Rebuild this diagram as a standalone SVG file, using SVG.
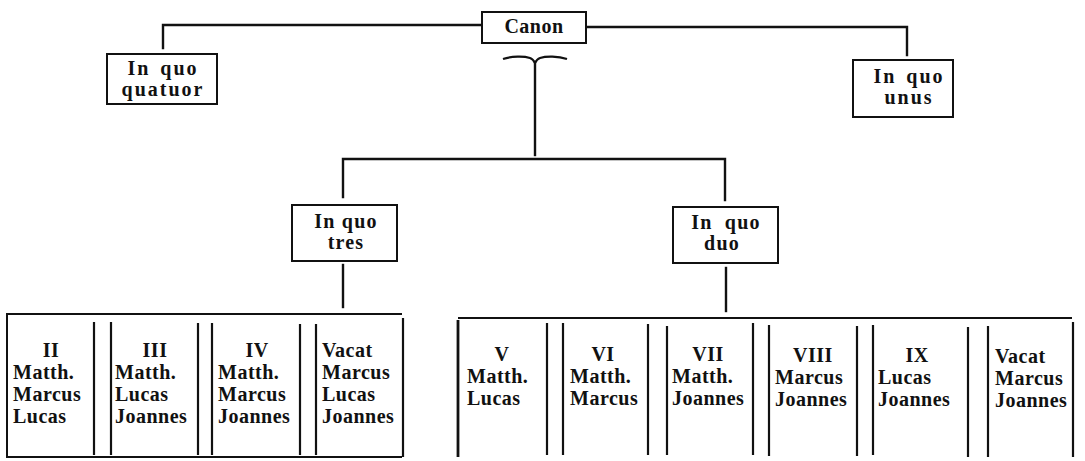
<svg xmlns="http://www.w3.org/2000/svg" width="1085" height="461" viewBox="0 0 1085 461">
<style>
  .bg{fill:#fff}
  .box{fill:#fff;stroke:#111;stroke-width:2}
  .ln{stroke:#111;stroke-width:2.4;fill:none;stroke-linecap:square}
  .tl{stroke:#111;stroke-width:2;fill:none}
  .dv{stroke:#111;stroke-width:2.2;fill:none}
  .lab{font-family:"Liberation Serif",serif;font-weight:bold;font-size:20px;fill:#111;text-anchor:middle;letter-spacing:1.2px}
  .cell{font-family:"Liberation Serif",serif;font-weight:bold;font-size:20px;fill:#111;letter-spacing:0.5px}
  .num{text-anchor:middle}
</style>
<rect class="bg" x="0" y="0" width="1085" height="461"/>

<g id="connectors">
  <polyline class="ln" points="163,48 163,25 482,25"/>
  <polyline class="ln" points="586,27 907,27 907,55"/>
  <path d="M503,59 C512,56 524,56 530,58 C533,59 534,61 535,63 C536,61 537,59 540,58 C546,56 558,56 567,59" fill="none" stroke="#111" stroke-width="2.2"/>
  <line class="ln" x1="535" y1="63" x2="535" y2="155"/>
  <polyline class="ln" points="343,197 343,159 725,159 725,200"/>
  <line class="ln" x1="343" y1="265" x2="343" y2="307"/>
  <line class="ln" x1="726" y1="268" x2="726" y2="311"/>
</g>

<g id="canon">
  <rect class="box" x="482" y="12" width="104" height="31"/>
  <text class="lab" x="534" y="33" style="letter-spacing:0.5px">Canon</text>
</g>

<g id="quatuor">
  <rect class="box" x="107" y="54" width="110" height="50"/>
  <text class="lab" x="163" y="75" style="letter-spacing:2px;word-spacing:3px">In quo</text>
  <text class="lab" x="163" y="96" style="letter-spacing:2px">quatuor</text>
</g>

<g id="unus">
  <rect class="box" x="853" y="60" width="100" height="57"/>
  <text class="lab" x="909" y="83" style="letter-spacing:2px;word-spacing:3px">In quo</text>
  <text class="lab" x="909" y="104" style="letter-spacing:2px">unus</text>
</g>

<g id="tres">
  <rect class="box" x="292" y="205" width="105" height="56"/>
  <text class="lab" x="346" y="228">In quo</text>
  <text class="lab" x="346" y="249">tres</text>
</g>

<g id="duo">
  <rect class="box" x="673" y="207" width="105" height="56"/>
  <text class="lab" x="726" y="229" style="word-spacing:6px">In quo</text>
  <text class="lab" x="722" y="250">duo</text>
</g>

<g id="table-tres">
  <polyline class="tl" points="402,314 7,314 7,457 402,457"/>
  <line class="dv" x1="94" y1="322" x2="94" y2="455"/>
  <line class="dv" x1="111" y1="322" x2="111" y2="455"/>
  <line class="dv" x1="198" y1="323" x2="198" y2="455"/>
  <line class="dv" x1="212" y1="323" x2="212" y2="455"/>
  <line class="dv" x1="300" y1="324" x2="300" y2="455"/>
  <line class="dv" x1="316" y1="324" x2="316" y2="455"/>
  <line class="dv" x1="403" y1="318" x2="403" y2="457"/>
  <g id="col-II">
    <text class="cell num" x="51" y="357">II</text>
    <text class="cell" x="13" y="379">Matth.</text>
    <text class="cell" x="13" y="401">Marcus</text>
    <text class="cell" x="13" y="423">Lucas</text>
  </g>
  <g id="col-III">
    <text class="cell num" x="155" y="357">III</text>
    <text class="cell" x="115" y="379">Matth.</text>
    <text class="cell" x="115" y="401">Lucas</text>
    <text class="cell" x="115" y="423">Joannes</text>
  </g>
  <g id="col-IV">
    <text class="cell num" x="257" y="357">IV</text>
    <text class="cell" x="218" y="379">Matth.</text>
    <text class="cell" x="218" y="401">Marcus</text>
    <text class="cell" x="218" y="423">Joannes</text>
  </g>
  <g id="col-vacat-1">
    <text class="cell" x="322" y="357">Vacat</text>
    <text class="cell" x="322" y="379">Marcus</text>
    <text class="cell" x="322" y="401">Lucas</text>
    <text class="cell" x="322" y="423">Joannes</text>
  </g>
</g>

<g id="table-duo">
  <line class="tl" x1="458" y1="318" x2="1072" y2="318"/>
  <line class="dv" x1="458" y1="320" x2="458" y2="457" style="stroke-width:2.8"/>
  <line class="dv" x1="547" y1="323" x2="547" y2="455"/>
  <line class="dv" x1="563" y1="323" x2="563" y2="455"/>
  <line class="dv" x1="648" y1="324" x2="648" y2="455"/>
  <line class="dv" x1="667" y1="326" x2="667" y2="455"/>
  <line class="dv" x1="753" y1="323" x2="753" y2="455"/>
  <line class="dv" x1="769" y1="325" x2="769" y2="456"/>
  <line class="dv" x1="857" y1="326" x2="857" y2="456"/>
  <line class="dv" x1="873" y1="325" x2="873" y2="455"/>
  <line class="dv" x1="968" y1="327" x2="968" y2="457"/>
  <line class="dv" x1="988" y1="326" x2="988" y2="457"/>
  <line class="dv" x1="1073" y1="322" x2="1073" y2="457"/>
  <g id="col-V">
    <text class="cell num" x="502" y="361">V</text>
    <text class="cell" x="467" y="383">Matth.</text>
    <text class="cell" x="467" y="405">Lucas</text>
  </g>
  <g id="col-VI">
    <text class="cell num" x="603" y="361">VI</text>
    <text class="cell" x="570" y="383">Matth.</text>
    <text class="cell" x="570" y="405">Marcus</text>
  </g>
  <g id="col-VII">
    <text class="cell num" x="708" y="361">VII</text>
    <text class="cell" x="672" y="383">Matth.</text>
    <text class="cell" x="672" y="405">Joannes</text>
  </g>
  <g id="col-VIII">
    <text class="cell num" x="813" y="362">VIII</text>
    <text class="cell" x="775" y="384">Marcus</text>
    <text class="cell" x="775" y="406">Joannes</text>
  </g>
  <g id="col-IX">
    <text class="cell num" x="917" y="362">IX</text>
    <text class="cell" x="878" y="384">Lucas</text>
    <text class="cell" x="878" y="406">Joannes</text>
  </g>
  <g id="col-vacat-2">
    <text class="cell" x="995" y="363">Vacat</text>
    <text class="cell" x="995" y="385">Marcus</text>
    <text class="cell" x="995" y="407">Joannes</text>
  </g>
</g>
</svg>
